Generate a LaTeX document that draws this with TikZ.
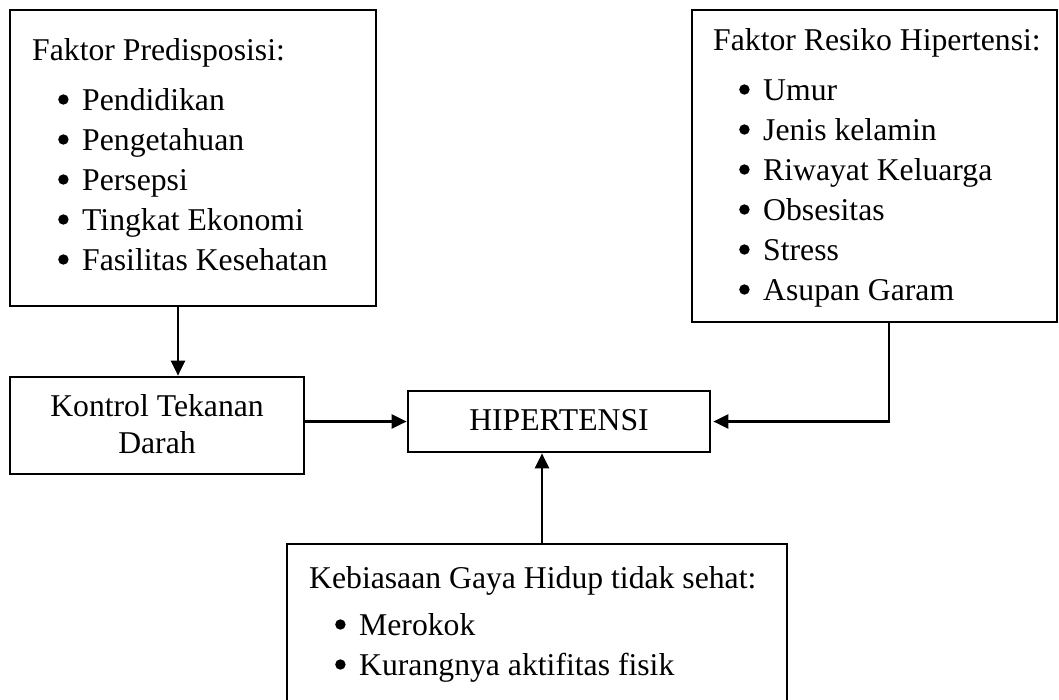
\documentclass[tikz,border=0pt]{standalone}
\usepackage{fontspec}
\setmainfont{Liberation Serif}
\usetikzlibrary{arrows.meta}
\newcommand{\myfs}{\fontsize{31.7}{40}\selectfont}
\newcommand{\mybul}{\tikz[baseline=0pt]\fill (5.2pt,10.5pt) circle[radius=5.2pt];}
\newcommand{\myitem}[1]{\hspace*{26pt}\makebox[24pt][l]{\mybul}#1}
\tikzset{
  box/.style={draw, line width=2.7pt, rectangle, inner sep=0pt},
  txt/.style={inner sep=0pt, font=\myfs},
  arr/.style={line width=2.3pt, -{Triangle[length=15pt,width=14pt]}},
}
\begin{document}
\begin{tikzpicture}[x=1pt,y=-1pt]
\useasboundingbox (0,0) rectangle (1059,699);
% boxes
\node[box, minimum width=366pt, minimum height=296pt] (pred) at (193,158) {};
\node[box, minimum width=365pt, minimum height=312pt] (risk) at (874.5,166) {};
\node[box, minimum width=294pt, minimum height=97pt] (kontrol) at (157,425.5) {};
\node[box, minimum width=302pt, minimum height=61pt] (hip) at (559,421.5) {};
\node[box, minimum width=500pt, minimum height=172pt] (keb) at (537,630) {};
% texts
\node[txt, anchor=base west] (predtxt) at (32,60) {\begin{tabular}[t]{@{}l@{}}Faktor Predisposisi:\\[10pt]
\myitem{Pendidikan}\\ \myitem{Pengetahuan}\\ \myitem{Persepsi}\\ \myitem{Tingkat Ekonomi}\\ \myitem{Fasilitas Kesehatan}\end{tabular}};
\node[txt, anchor=base west] (risktxt) at (713,50) {\begin{tabular}[t]{@{}l@{}}Faktor Resiko Hipertensi:\\[10pt]
\myitem{Umur}\\ \myitem{Jenis kelamin}\\ \myitem{Riwayat Keluarga}\\ \myitem{Obsesitas}\\ \myitem{Stress}\\ \myitem{Asupan Garam}\end{tabular}};
\node[txt, anchor=base] (kontroltxt) at (157,416) {\begin{tabular}[t]{@{}c@{}}Kontrol Tekanan\\[-3pt] Darah\end{tabular}};
\node[txt, anchor=base] (hiptxt) at (559,430) {HIPERTENSI};
\node[txt, anchor=base west] (kebtxt) at (309,588) {\begin{tabular}[t]{@{}l@{}}Kebiasaan Gaya Hidup tidak sehat:\\[7pt]
\myitem{Merokok}\\ \myitem{Kurangnya aktifitas fisik}\end{tabular}};
% connectors
\draw[arr] ([xshift=-15pt]pred.south) -- ([xshift=-15pt]pred.south |- kontrol.north);
\draw[arr] (kontrol.east |- hip.west) -- (hip.west);
\draw[arr] ([xshift=14.5pt]risk.south) |- ([xshift=2pt]hip.east);
\draw[arr] ([xshift=-17pt]hip.south |- keb.north) -- ([xshift=-17pt]hip.south);
\end{tikzpicture}
\end{document}
